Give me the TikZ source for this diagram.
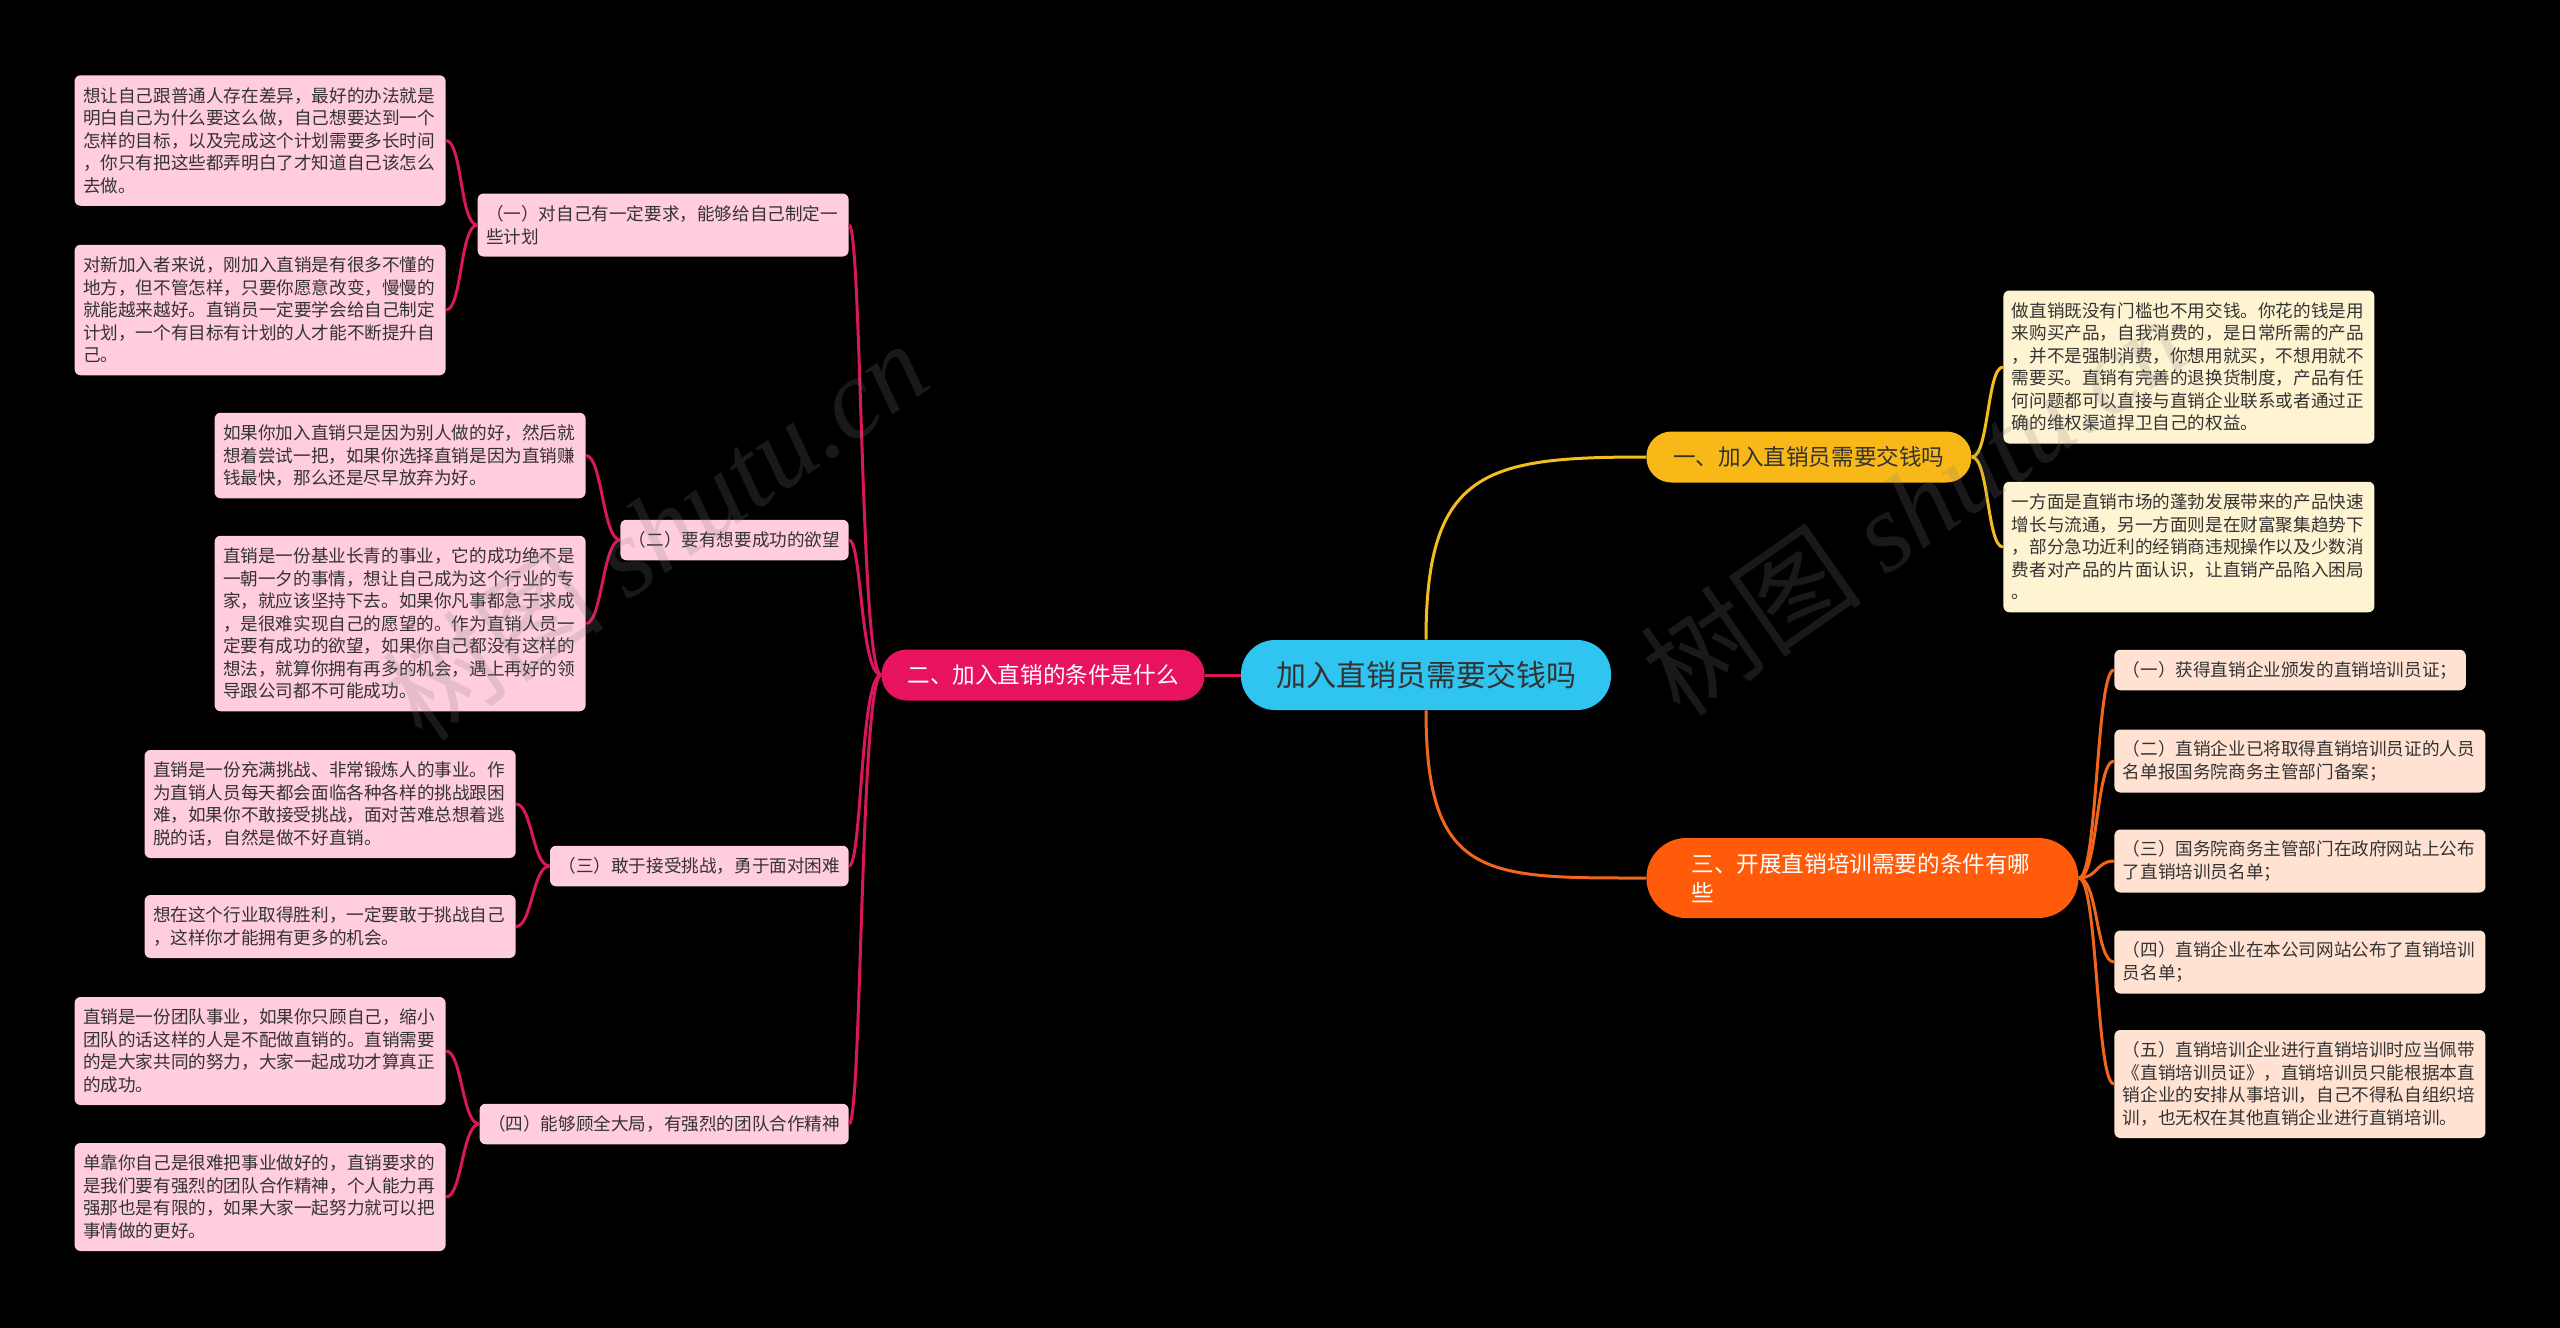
\documentclass[tikz,border=0pt]{standalone}
\usepackage{fontspec}
\setmainfont{Noto Sans CJK SC}
\newfontfamily\wmfont{Liberation Serif}
\usepackage{tikz}
\usetikzlibrary{positioning}

\definecolor{rootblue}{HTML}{30C4F0}
\definecolor{pinkmain}{HTML}{E8135F}
\definecolor{pinkleafc}{HTML}{FFCCE0}
\definecolor{pinkln}{HTML}{D8175E}
\definecolor{yelmain}{HTML}{F8B818}
\definecolor{yelleafc}{HTML}{FFF4D2}
\definecolor{yelln}{HTML}{F2BE1E}
\definecolor{orgmain}{HTML}{FF5B0A}
\definecolor{orgleafc}{HTML}{FFE2D2}
\definecolor{orgln}{HTML}{F2661C}
\definecolor{darktxt}{HTML}{333333}

\begin{document}
\begin{tikzpicture}[
            x=0.5pt, y=-0.5pt,
            rootnd/.style={fill=rootblue, text=darktxt, rounded corners=17pt, minimum width=185pt, minimum height=35pt, font=\fontsize{15}{18}\selectfont},
            hd/.style={rounded corners=12.5pt, minimum height=25.5pt, inner xsep=0pt, font=\fontsize{11.3}{14.7}\selectfont},
            leaf/.style={rounded corners=3pt, text=darktxt, inner xsep=4.25pt, inner ysep=0pt, minimum height=20.25pt, font=\fontsize{8.8}{11.25}\selectfont},
            wide/.style={text width=177pt, align=left},
            nlines/.style={minimum height={#1*11.25pt+9pt}},
            pk/.style={leaf, fill=pinkleafc},
            yl/.style={leaf, fill=yelleafc},
            og/.style={leaf, fill=orgleafc},
            pkline/.style={draw=pinkln, line width=1.5pt},
            ylline/.style={draw=yelln, line width=1.5pt},
            ogline/.style={draw=orgln, line width=1.5pt},
            wm/.style={text=gray, opacity=0.2, rotate=35, font=\fontsize{56}{60}\selectfont}
        ]
        \fill[black] (0,0) rectangle (2560,1328);
        \useasboundingbox (0,0) rectangle (2560,1328);

        % Centre and main branches
        \node[rootnd] (root) at (1426,675) {加入直销员需要交钱吗};
        \node[hd, fill=pinkmain, text=white, minimum width=161.5pt, anchor=east] (b2) at (1205,675) {二、加入直销的条件是什么};
        \node[hd, fill=yelmain, text=darktxt, minimum width=162.5pt, anchor=west] (b1) at (1646,457) {一、加入直销员需要交钱吗};
        \node[hd, fill=orgmain, text=white, rounded corners=20pt, minimum width=216pt, minimum height=40pt, text width=171pt, align=left, anchor=west] (b3) at (1646,878) {三、开展直销培训需要的条件有哪\\些};

        % Left sub nodes
        \node[pk, wide, nlines=2, anchor=east] (s1) at (849,225) {（一）对自己有一定要求，能够给自己制定一\\些计划};
        \node[pk, anchor=east] (s2) at (849,540) {（二）要有想要成功的欲望};
        \node[pk, anchor=east] (s3) at (849,866) {（三）敢于接受挑战，勇于面对困难};
        \node[pk, anchor=east] (s4) at (849,1124) {（四）能够顾全大局，有强烈的团队合作精神};

        % Left leaves
        \node[pk, wide, nlines=5, anchor=east] (l1a) at (446,140.5) {想让自己跟普通人存在差异，最好的办法就是\\明白自己为什么要这么做，自己想要达到一个\\怎样的目标，以及完成这个计划需要多长时间\\，你只有把这些都弄明白了才知道自己该怎么\\去做。};
        \node[pk, wide, nlines=5, anchor=east] (l1b) at (446,310) {对新加入者来说，刚加入直销是有很多不懂的\\地方，但不管怎样，只要你愿意改变，慢慢的\\就能越来越好。直销员一定要学会给自己制定\\计划，一个有目标有计划的人才能不断提升自\\己。};
        \node[pk, wide, nlines=3, anchor=east] (l2a) at (586,455.5) {如果你加入直销只是因为别人做的好，然后就\\想着尝试一把，如果你选择直销是因为直销赚\\钱最快，那么还是尽早放弃为好。};
        \node[pk, wide, nlines=7, anchor=east] (l2b) at (586,623.5) {直销是一份基业长青的事业，它的成功绝不是\\一朝一夕的事情，想让自己成为这个行业的专\\家，就应该坚持下去。如果你凡事都急于求成\\，是很难实现自己的愿望的。作为直销人员一\\定要有成功的欲望，如果你自己都没有这样的\\想法，就算你拥有再多的机会，遇上再好的领\\导跟公司都不可能成功。};
        \node[pk, wide, nlines=4, anchor=east] (l3a) at (516,804) {直销是一份充满挑战、非常锻炼人的事业。作\\为直销人员每天都会面临各种各样的挑战跟困\\难，如果你不敢接受挑战，面对苦难总想着逃\\脱的话，自然是做不好直销。};
        \node[pk, wide, nlines=2, anchor=east] (l3b) at (516,926.5) {想在这个行业取得胜利，一定要敢于挑战自己\\，这样你才能拥有更多的机会。};
        \node[pk, wide, nlines=4, anchor=east] (l4a) at (446,1051) {直销是一份团队事业，如果你只顾自己，缩小\\团队的话这样的人是不配做直销的。直销需要\\的是大家共同的努力，大家一起成功才算真正\\的成功。};
        \node[pk, wide, nlines=4, anchor=east] (l4b) at (446,1197) {单靠你自己是很难把事业做好的，直销要求的\\是我们要有强烈的团队合作精神，个人能力再\\强那也是有限的，如果大家一起努力就可以把\\事情做的更好。};

        % Right leaves, first branch
        \node[yl, wide, nlines=6, anchor=west] (r1a) at (2003,367) {做直销既没有门槛也不用交钱。你花的钱是用\\来购买产品，自我消费的，是日常所需的产品\\，并不是强制消费，你想用就买，不想用就不\\需要买。直销有完善的退换货制度，产品有任\\何问题都可以直接与直销企业联系或者通过正\\确的维权渠道捍卫自己的权益。};
        \node[yl, wide, nlines=5, anchor=west] (r1b) at (2003,547) {一方面是直销市场的蓬勃发展带来的产品快速\\增长与流通，另一方面则是在财富聚集趋势下\\，部分急功近利的经销商违规操作以及少数消\\费者对产品的片面认识，让直销产品陷入困局\\。};

        % Right leaves, third branch
        \node[og, anchor=west] (r3a) at (2114,670) {（一）获得直销企业颁发的直销培训员证；};
        \node[og, wide, nlines=2, anchor=west] (r3b) at (2114,761) {（二）直销企业已将取得直销培训员证的人员\\名单报国务院商务主管部门备案；};
        \node[og, wide, nlines=2, anchor=west] (r3c) at (2114,861) {（三）国务院商务主管部门在政府网站上公布\\了直销培训员名单；};
        \node[og, wide, nlines=2, anchor=west] (r3d) at (2114,962) {（四）直销企业在本公司网站公布了直销培训\\员名单；};
        \node[og, wide, nlines=4, anchor=west] (r3e) at (2114,1084) {（五）直销培训企业进行直销培训时应当佩带\\《直销培训员证》，直销培训员只能根据本直\\销企业的安排从事培训，自己不得私自组织培\\训，也无权在其他直销企业进行直销培训。};

        % Root -> branches
        \draw[pkline] (root.west) -- (b2.east);
        \draw[ylline] (root.north) .. controls +(0,-170) and +(-160,0) .. (b1.west);
        \draw[ogline] (root.south) .. controls +(0,170) and +(-160,0) .. (b3.west);

        % b2 -> sub nodes
        \draw[pkline] (b2.west) .. controls +(-21,0) and +(13,0) .. (s1.east);
        \draw[pkline] (b2.west) .. controls +(-21,0) and +(13,0) .. (s2.east);
        \draw[pkline] (b2.west) .. controls +(-21,0) and +(13,0) .. (s3.east);
        \draw[pkline] (b2.west) .. controls +(-21,0) and +(13,0) .. (s4.east);

        % sub nodes -> leaves
        \draw[pkline] (s1.west) .. controls +(-17,0) and +(16,0) .. (l1a.east);
        \draw[pkline] (s1.west) .. controls +(-17,0) and +(16,0) .. (l1b.east);
        \draw[pkline] (s2.west) .. controls +(-17,0) and +(16,0) .. (l2a.east);
        \draw[pkline] (s2.west) .. controls +(-17,0) and +(16,0) .. (l2b.east);
        \draw[pkline] (s3.west) .. controls +(-17,0) and +(16,0) .. (l3a.east);
        \draw[pkline] (s3.west) .. controls +(-17,0) and +(16,0) .. (l3b.east);
        \draw[pkline] (s4.west) .. controls +(-17,0) and +(16,0) .. (l4a.east);
        \draw[pkline] (s4.west) .. controls +(-17,0) and +(16,0) .. (l4b.east);

        % b1 -> leaves
        \draw[ylline] (b1.east) .. controls +(17,0) and +(-16,0) .. (r1a.west);
        \draw[ylline] (b1.east) .. controls +(17,0) and +(-16,0) .. (r1b.west);

        % b3 -> leaves
        \draw[ogline] (b3.east) .. controls +(19,0) and +(-18,0) .. (r3a.west);
        \draw[ogline] (b3.east) .. controls +(19,0) and +(-18,0) .. (r3b.west);
        \draw[ogline] (b3.east) .. controls +(19,0) and +(-18,0) .. (r3c.west);
        \draw[ogline] (b3.east) .. controls +(19,0) and +(-18,0) .. (r3d.west);
        \draw[ogline] (b3.east) .. controls +(19,0) and +(-18,0) .. (r3e.west);

        % Watermarks
        \node[wm] (wm1) at (655,530) {树图 {\wmfont\itshape shutu.cn}};
        \node[wm] (wm2) at (1913,505) {树图 {\wmfont\itshape shutu.cn}};
    \end{tikzpicture}
\end{document}
